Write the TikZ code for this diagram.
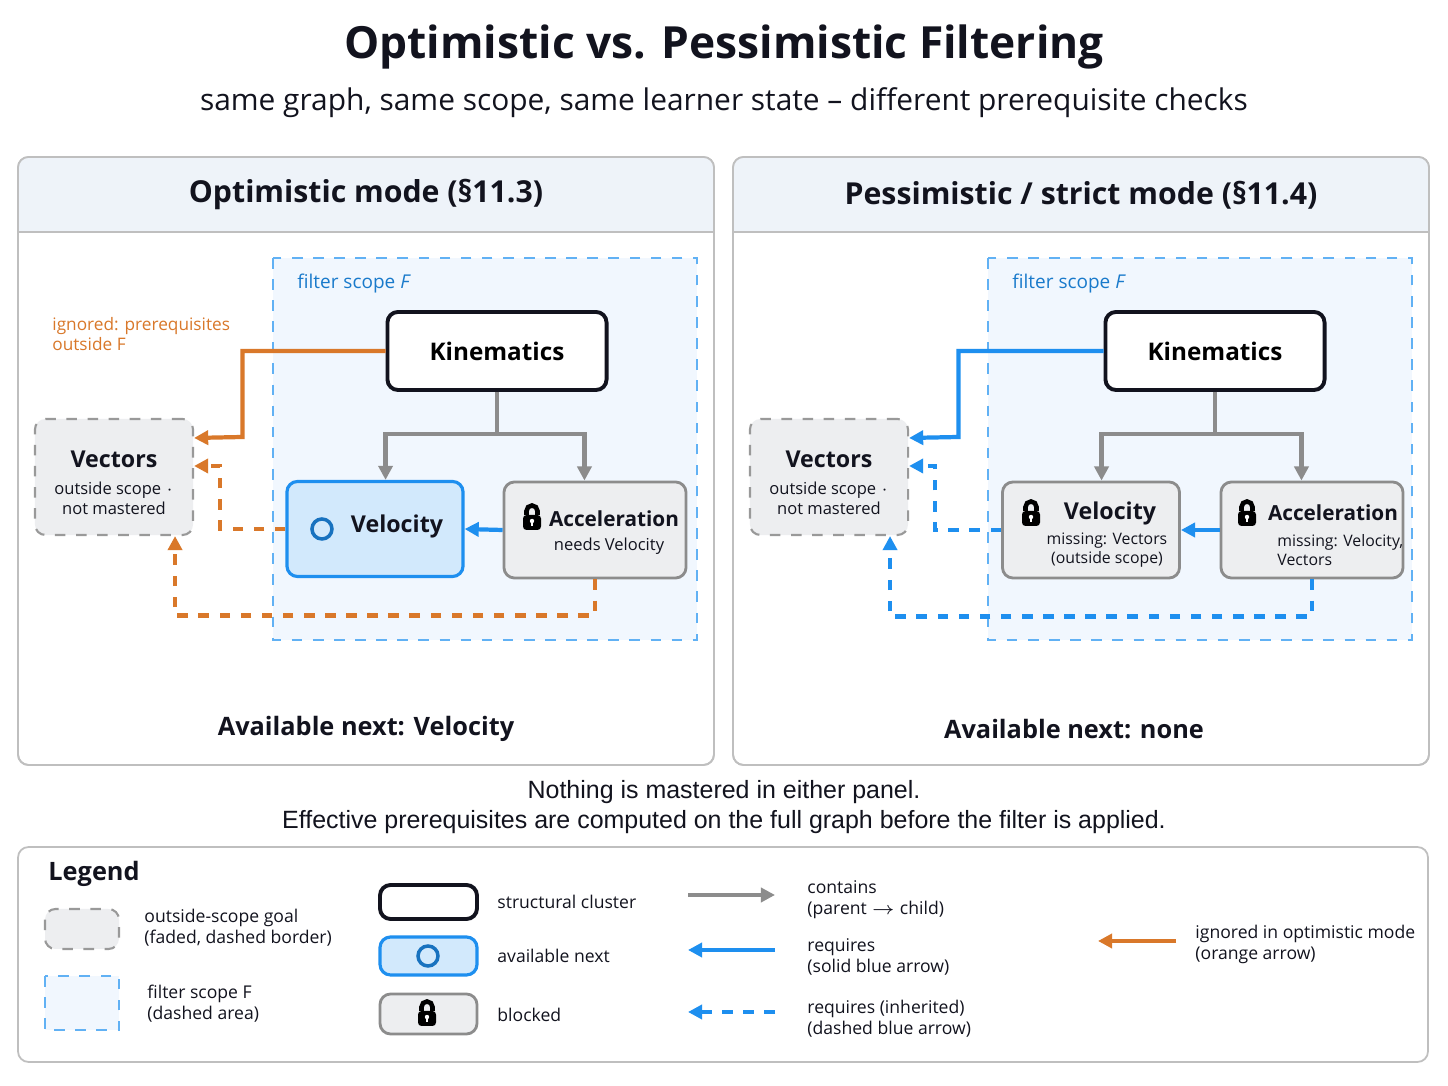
\documentclass[tikz,border=0pt]{standalone}
\usepackage{fontspec}
\setmainfont{Open Sans}
\newfontfamily\capfont{Liberation Sans}
\usetikzlibrary{arrows.meta,positioning}
\definecolor{oblue}{HTML}{1E8FEF}
\definecolor{oorange}{HTML}{D9782A}
\definecolor{ink}{HTML}{12131E}
\definecolor{band}{HTML}{EEF3F9}
\definecolor{scopefill}{HTML}{F1F7FE}
\definecolor{greyfill}{HTML}{EDEEF0}
\newcommand\fs[1]{\fontsize{#1}{1.2\dimexpr#1pt\relax}\selectfont}
\tikzset{
  panel/.style={draw=black!25, rounded corners=3pt, line width=0.5pt},
  scope/.style={draw=oblue!70, dashed, fill=scopefill, line width=0.5pt},
  cluster/.style={draw=ink, line width=1.1pt, rounded corners=3pt, fill=white,
    minimum width=2.19cm, minimum height=0.78cm, font=\fs{6.9}\bfseries},
  avail/.style={draw=oblue, line width=0.9pt, rounded corners=3pt, fill=oblue!20,
    minimum width=1.76cm, minimum height=0.95cm},
  blocked/.style={draw=black!45, line width=0.8pt, rounded corners=3pt, fill=greyfill,
    minimum height=0.96cm},
  outside/.style={draw=black!40, dashed, line width=0.6pt, rounded corners=3pt, fill=greyfill,
    minimum width=1.58cm, minimum height=1.16cm, align=center},
  contains/.style={draw=black!45, line width=1.2pt, -{Triangle[length=4pt,width=4pt]}},
  req/.style={draw=oblue, line width=1.2pt, -{Triangle[length=4pt,width=4pt]}},
  reqd/.style={req, dashed},
  ign/.style={draw=oorange, line width=1.2pt, -{Triangle[length=4pt,width=4pt]}},
  ignd/.style={ign, dashed},
  lock/.pic={
    \fill[black, rounded corners=1pt] (-9,13) rectangle (9,-2);
    \draw[black, line width=1.3pt] (-5.5,-2) -- (-5.5,-6) arc (180:360:5.5) -- (5.5,-2);
    \fill[white] (0,4) circle (2.2);
    \fill[white] (-1,4) rectangle (1,9);
  },
  big/.style={font=\fs{4.7}, text=ink},
  leg/.style={font=\fs{5.0}, text=ink, anchor=west, align=left},
}
\begin{document}
\begin{tikzpicture}[x=0.01cm, y=-0.01cm]
\useasboundingbox[fill=white] (0,0) rectangle (1448,1086);

\node[font=\fs{12.6}\bfseries, text=ink] (title) at (724,47) {Optimistic vs. Pessimistic Filtering};
\node[font=\fs{8.5}, text=ink] (sub) at (724,103) {same graph, same scope, same learner state -- different prerequisite checks};

% panels
\foreach \ox/\head in {0/{Optimistic mode (\S11.3)}, 715/{Pessimistic / strict mode (\S11.4)}} {
  \begin{scope}[xshift=\ox*0.01cm]
    \fill[white, panel] (18,157) rectangle (714,765);
    \begin{scope}
      \clip[rounded corners=3pt] (18,157) rectangle (714,765);
      \fill[band] (18,157) rectangle (714,232);
    \end{scope}
    \draw[panel] (18,157) rectangle (714,765);
    \draw[black!25, line width=0.5pt] (18,232) -- (714,232);
    \node[font=\fs{8.6}\bfseries, text=ink] at (366,195) {\head};
    \fill[scope] (273,258) rectangle (697,640);
    \node[anchor=west, font=\fs{5.4}, text=oblue!85!black] at (285,284) {filter scope \textit{F}};
  \end{scope}
}

% left panel
\node[cluster] (kinL) at (497,351) {Kinematics};
\node[avail] (velL) at (375,529) {};
\draw[oblue!80!black, line width=1pt] ([xshift=-0.53cm]velL.center) circle (10);
\node[font=\fs{6.6}\bfseries, text=ink] at (397,526) {Velocity};
\node[blocked, minimum width=1.82cm] (accL) at (595,530) {};
\pic at (532,517) {lock};
\node[font=\fs{5.9}\bfseries, text=ink] at (614,519) {Acceleration};
\node[big] at (609,546) {needs Velocity};
\node[outside] (vecL) at (114,477) {};
\node[font=\fs{6.6}\bfseries, text=ink] at (114,459) {Vectors};
\node[big, align=center] at (114,498) {outside scope $\cdot$\\not mastered};
\node[anchor=west, align=left, font=\fs{4.9}, text=oorange] (ignL) at (40,334) {ignored: prerequisites\\outside F};
\node[font=\fs{7.2}\bfseries, text=ink] (availL) at (366,729) {Available next: Velocity};

\draw[contains] (kinL.south) -- ++(0,42) -| ([xshift=3pt]velL.north);
\draw[contains] (kinL.south) -- ++(0,42) -| ([xshift=-3pt]accL.north);
\draw[req] (accL.west) -- (velL.east);
\draw[ign] (kinL.west) -| ++(-143,86) -- ([yshift=0.39cm]vecL.east);
\draw[ignd] (velL.west) -- ++(-65,0) |- ([yshift=0.11cm]vecL.east);
\draw[ignd] (accL.south) -- ++(0,36) -| ([xshift=0.61cm]vecL.south);

% right panel
\node[cluster] (kinR) at (1215,351) {Kinematics};
\node[blocked, minimum width=1.77cm] (velR) at (1091,530) {};
\pic at (1031,513) {lock};
\node[font=\fs{6.6}\bfseries, text=ink] at (1110,513) {Velocity};
\node[big, align=center, font=\fs{4.5}] at (1107,550) {missing: Vectors\\(outside scope)};
\node[blocked, minimum width=1.82cm] (accR) at (1312,530) {};
\pic at (1247,513) {lock};
\node[font=\fs{5.9}\bfseries, text=ink] at (1333,513) {Acceleration};
\node[big, align=left, anchor=west, font=\fs{4.5}] at (1265,550) {missing: Velocity,\\Vectors};
\node[outside] (vecR) at (829,477) {};
\node[font=\fs{6.6}\bfseries, text=ink] at (829,459) {Vectors};
\node[big, align=center] at (829,498) {outside scope $\cdot$\\not mastered};
\node[font=\fs{7.2}\bfseries, text=ink] (availR) at (1074,729) {Available next: none};

\draw[contains] (kinR.south) -- ++(0,42) -| ([xshift=3pt]velR.north);
\draw[contains] (kinR.south) -- ++(0,42) -| ([xshift=-3pt]accR.north);
\draw[req] (accR.west) -- (velR.east);
\draw[req] (kinR.west) -| ++(-145,86) -- ([yshift=0.39cm]vecR.east);
\draw[reqd] (velR.west) -- ++(-66,0) |- ([yshift=0.11cm]vecR.east);
\draw[reqd] (accR.south) -- ++(0,37) -| ([xshift=0.61cm]vecR.south);

% caption
\node[font=\capfont\fs{7.1}, align=center, text=ink] (cap) at (724,807) {Nothing is mastered in either panel.\\Effective prerequisites are computed on the full graph before the filter is applied.};

% legend
\draw[panel, fill=white] (18,847) rectangle (1428,1062);
\node[anchor=west, font=\fs{7.2}\bfseries, text=ink] (leg) at (36,874) {Legend};
\draw[outside] (45,909) rectangle (119,949);
\node[leg] at (132,928) {outside-scope goal\\(faded, dashed border)};
\fill[scope] (45,976) rectangle (119,1030);
\node[leg] at (135,1004) {filter scope F\\(dashed area)};
\draw[ink, line width=1.1pt, rounded corners=3pt, fill=white] (380,885) rectangle (477,919);
\node[leg] at (485,902) {structural cluster};
\draw[oblue, line width=0.9pt, rounded corners=3pt, fill=oblue!20] (380,937) rectangle (477,975);
\draw[oblue!80!black, line width=1pt] (428,956) circle (10);
\node[leg] at (485,956) {available next};
\draw[black!45, line width=0.8pt, rounded corners=3pt, fill=greyfill] (380,994) rectangle (477,1034);
\pic at (427,1013) {lock};
\node[leg] at (485,1015) {blocked};
\coordinate (c1) at (688,895); \coordinate (c2) at (775,895);
\draw[contains] (c1) -- (c2);
\node[leg] at (795,900) {contains\\(parent $\to$ child)};
\coordinate (r1) at (775,950); \coordinate (r2) at (688,950);
\draw[req] (r1) -- (r2);
\node[leg] at (795,957) {requires\\(solid blue arrow)};
\coordinate (d1) at (775,1012); \coordinate (d2) at (688,1012);
\draw[reqd] (d1) -- (d2);
\node[leg] at (795,1019) {requires (inherited)\\(dashed blue arrow)};
\coordinate (o1) at (1176,941); \coordinate (o2) at (1098,941);
\draw[ign] (o1) -- (o2);
\node[leg] at (1183,944) {ignored in optimistic mode\\(orange arrow)};
\end{tikzpicture}
\end{document}
